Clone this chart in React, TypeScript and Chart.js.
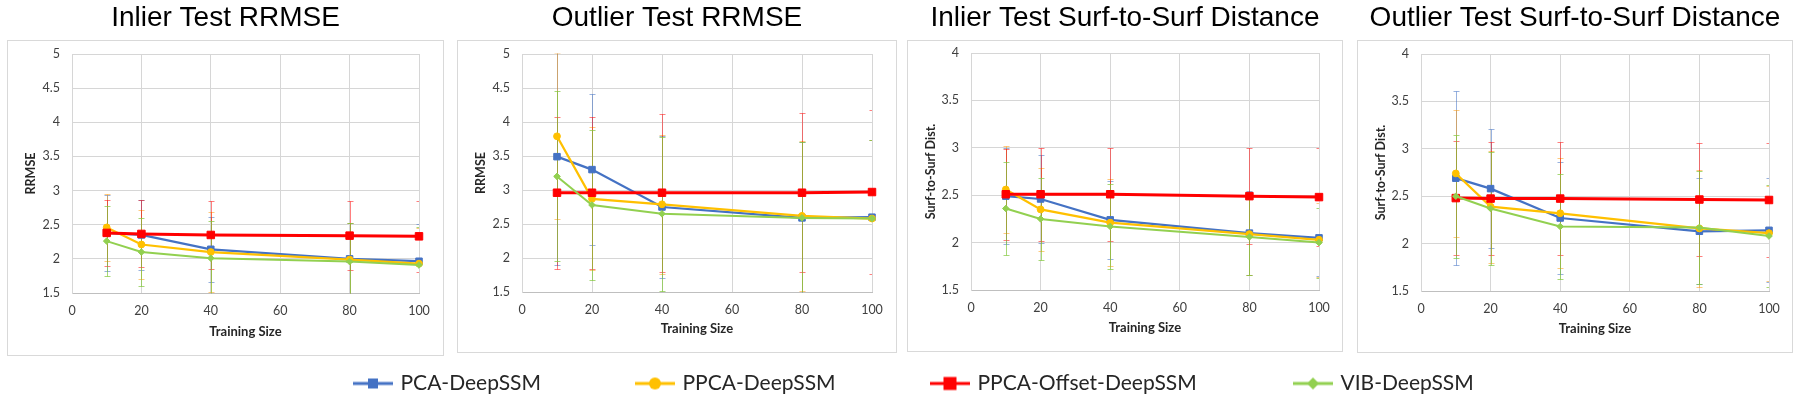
import React, { useEffect, useRef } from "react";
import { Chart, registerables } from "chart.js";

Chart.register(...registerables);

// ---------- data ----------
const trainingSizes = [10, 20, 40, 80, 100];
const seriesNames = ["PCA-DeepSSM", "PPCA-DeepSSM", "PPCA-Offset-DeepSSM", "VIB-DeepSSM"];
const panelTitles = [
  "Inlier Test RRMSE",
  "Outlier Test RRMSE",
  "Inlier Test Surf-to-Surf Distance",
  "Outlier Test Surf-to-Surf Distance",
];
const yAxisTitles = ["RRMSE", "RRMSE", "Surf-to-Surf Dist.", "Surf-to-Surf Dist."];
const xAxisTitle = "Training Size";
const xTickMin = 0;
const xTickMax = 100;
const xTickStep = 20;
const yTickMins = [1.5, 1.5, 1.5, 1.5];
const yTickMaxes = [5, 5, 4, 4];
const yTickStep = 0.5;

// Inlier Test RRMSE
const inlierRrmsePca = [2.38, 2.35, 2.14, 2.0, 1.965];
const inlierRrmsePcaErr = [0.56, 0.51, 0.48, 0.53, 0.54];
const inlierRrmsePpca = [2.46, 2.21, 2.1, 1.99, 1.93];
const inlierRrmsePpcaErr = [0.49, 0.51, 0.58, 0.53, 0.52];
const inlierRrmseOffset = [2.38, 2.365, 2.35, 2.34, 2.33];
const inlierRrmseOffsetErr = [0.48, 0.49, 0.5, 0.51, 0.52];
const inlierRrmseVib = [2.26, 2.1, 2.01, 1.96, 1.91];
const inlierRrmseVibErr = [0.51, 0.5, 0.54, 0.57, 0.55];

// Outlier Test RRMSE
const outlierRrmsePca = [3.49, 3.3, 2.75, 2.59, 2.6];
const outlierRrmsePcaErr = [1.59, 1.11, 1.04, 1.12, 1.13];
const outlierRrmsePpca = [3.79, 2.87, 2.79, 2.62, 2.58];
const outlierRrmsePpcaErr = [1.22, 1.05, 1.02, 1.1, 1.15];
const outlierRrmseOffset = [2.96, 2.96, 2.96, 2.96, 2.97];
const outlierRrmseOffsetErr = [1.12, 1.12, 1.16, 1.17, 1.2];
const outlierRrmseVib = [3.2, 2.78, 2.65, 2.59, 2.58];
const outlierRrmseVibErr = [1.25, 1.1, 1.13, 1.12, 1.15];

// Inlier Test Surf-to-Surf Distance
const inlierSurfPca = [2.49, 2.46, 2.24, 2.1, 2.05];
const inlierSurfPcaErr = [0.51, 0.46, 0.41, 0.44, 0.4];
const inlierSurfPpca = [2.56, 2.35, 2.21, 2.09, 2.03];
const inlierSurfPpcaErr = [0.46, 0.44, 0.46, 0.43, 0.39];
const inlierSurfOffset = [2.51, 2.51, 2.51, 2.49, 2.48];
const inlierSurfOffsetErr = [0.48, 0.49, 0.49, 0.51, 0.52];
const inlierSurfVib = [2.36, 2.25, 2.17, 2.06, 2.0];
const inlierSurfVibErr = [0.49, 0.43, 0.45, 0.4, 0.37];

// Outlier Test Surf-to-Surf Distance
const outlierSurfPca = [2.69, 2.58, 2.27, 2.13, 2.14];
const outlierSurfPcaErr = [0.92, 0.63, 0.59, 0.56, 0.55];
const outlierSurfPpca = [2.74, 2.39, 2.32, 2.16, 2.11];
const outlierSurfPpcaErr = [0.67, 0.59, 0.58, 0.62, 0.5];
const outlierSurfOffset = [2.48, 2.475, 2.475, 2.465, 2.46];
const outlierSurfOffsetErr = [0.6, 0.6, 0.6, 0.6, 0.6];
const outlierSurfVib = [2.5, 2.37, 2.18, 2.17, 2.08];
const outlierSurfVibErr = [0.65, 0.6, 0.55, 0.6, 0.54];

const panelValues = [
  [inlierRrmsePca, inlierRrmsePpca, inlierRrmseOffset, inlierRrmseVib],
  [outlierRrmsePca, outlierRrmsePpca, outlierRrmseOffset, outlierRrmseVib],
  [inlierSurfPca, inlierSurfPpca, inlierSurfOffset, inlierSurfVib],
  [outlierSurfPca, outlierSurfPpca, outlierSurfOffset, outlierSurfVib],
];
const panelErrors = [
  [inlierRrmsePcaErr, inlierRrmsePpcaErr, inlierRrmseOffsetErr, inlierRrmseVibErr],
  [outlierRrmsePcaErr, outlierRrmsePpcaErr, outlierRrmseOffsetErr, outlierRrmseVibErr],
  [inlierSurfPcaErr, inlierSurfPpcaErr, inlierSurfOffsetErr, inlierSurfVibErr],
  [outlierSurfPcaErr, outlierSurfPpcaErr, outlierSurfOffsetErr, outlierSurfVibErr],
];

// ---------- styles / layout ----------
const seriesStyles = [
  { color: "#4472C4", err: "rgba(68,114,196,0.55)", point: "rect", radius: 4.6, width: 2.25, order: 3 },
  { color: "#FFC000", err: "rgba(255,150,0,0.5)", point: "circle", radius: 3.4, width: 2.25, order: 2 },
  { color: "#FF0000", err: "rgba(255,0,0,0.5)", point: "rect", radius: 5.3, width: 3, order: 1 },
  { color: "#92D050", err: "rgba(130,200,60,0.7)", point: "rectRot", radius: 3.3, width: 2, order: 0 },
];

const panelLayouts = [
  { left: 7, right: 443, boxBottom: 355, chartLeft: 72, chartRight: 419, chartTop: 54, chartBottom: 293 },
  { left: 457, right: 896, boxBottom: 352, chartLeft: 522, chartRight: 872, chartTop: 54, chartBottom: 292 },
  { left: 907, right: 1342, boxBottom: 351, chartLeft: 971, chartRight: 1319, chartTop: 53, chartBottom: 290 },
  { left: 1357, right: 1792, boxBottom: 352, chartLeft: 1421, chartRight: 1769, chartTop: 54, chartBottom: 291 },
];

const legendLineStarts = [353, 635, 930, 1293];
const legendCenterY = 383;

const TICK_FONT = { family: "Lato, 'Liberation Sans', sans-serif", size: 12.5 };
const TICK_COLOR = "#404040";
const GRID_COLOR = "#d6d6d6";

const formatTick = (v: number | string) => String(Number(v));

const errorBarPlugin = {
  id: "errorBars",
  beforeDatasetsDraw(chart: any) {
    const { ctx, chartArea, scales } = chart;
    const xs = scales.x;
    const ys = scales.y;
    ctx.save();
    ctx.beginPath();
    ctx.rect(chartArea.left, chartArea.top - 0.5, chartArea.right - chartArea.left, chartArea.bottom - chartArea.top + 1);
    ctx.clip();
    chart.data.datasets.forEach((ds: any) => {
      const errs: number[] = ds.errorBars;
      if (!errs) return;
      ctx.strokeStyle = ds.errorBarColor;
      ctx.lineWidth = 1;
      ds.data.forEach((p: any, i: number) => {
        const px = Math.round(xs.getPixelForValue(p.x)) + 0.5;
        const top = Math.round(ys.getPixelForValue(p.y + errs[i])) + 0.5;
        const bot = Math.round(ys.getPixelForValue(p.y - errs[i])) + 0.5;
        ctx.beginPath();
        ctx.moveTo(px, top);
        ctx.lineTo(px, bot);
        ctx.moveTo(px - 3, top);
        ctx.lineTo(px + 3, top);
        ctx.moveTo(px - 3, bot);
        ctx.lineTo(px + 3, bot);
        ctx.stroke();
      });
    });
    ctx.restore();
  },
};

function Panel({ index }: { index: number }) {
  const ref = useRef<HTMLCanvasElement>(null);
  const L = panelLayouts[index];
  const width = L.right - L.left + 1;
  const height = L.boxBottom + 1;

  useEffect(() => {
    const datasets = seriesNames.map((name, si) => {
      const st = seriesStyles[si];
      return {
        label: name,
        data: trainingSizes.map((x, i) => ({ x, y: panelValues[index][si][i] })),
        errorBars: panelErrors[index][si],
        errorBarColor: st.err,
        borderColor: st.color,
        backgroundColor: st.color,
        borderWidth: st.width,
        pointStyle: st.point,
        pointRadius: st.radius,
        pointBorderWidth: 1,
        pointBorderColor: st.color,
        pointBackgroundColor: st.color,
        tension: 0,
        clip: false,
        order: st.order,
      };
    });
    const chart = new Chart(ref.current as HTMLCanvasElement, {
      type: "line",
      data: { datasets } as any,
      plugins: [errorBarPlugin],
      options: {
        animation: false,
        responsive: false,
        maintainAspectRatio: false,
        events: [],
        layout: { padding: { left: 0, right: 0, top: 0, bottom: 0 } },
        plugins: {
          legend: { display: false },
          tooltip: { enabled: false },
          title: {
            display: true,
            text: panelTitles[index],
            color: "#000000",
            font: { family: "'Liberation Sans', Arial, sans-serif", size: 28, weight: "normal", lineHeight: 1.2 },
            padding: { top: 1, bottom: L.chartTop - 1 - 28 * 1.2 },
          },
        },
        scales: {
          x: {
            type: "linear",
            min: xTickMin,
            max: xTickMax,
            ticks: { stepSize: xTickStep, font: TICK_FONT, color: TICK_COLOR, padding: 10, maxRotation: 0, callback: formatTick },
            grid: { color: GRID_COLOR, lineWidth: 1, drawTicks: false },
            border: { color: "#bfbfbf", width: 1 },
            title: {
              display: true,
              text: xAxisTitle,
              color: "#262626",
              font: { family: "Lato, 'Liberation Sans', sans-serif", size: 13, weight: "bold", lineHeight: 1.2 },
              padding: { top: 0, bottom: 16 },
            },
            afterFit: (s: any) => {
              s.height = height - L.chartBottom;
              s.paddingRight = width - (L.chartRight - L.left);
            },
          },
          y: {
            type: "linear",
            min: yTickMins[index],
            max: yTickMaxes[index],
            ticks: { stepSize: yTickStep, font: TICK_FONT, color: TICK_COLOR, padding: 12, callback: formatTick },
            grid: { color: GRID_COLOR, lineWidth: 1, drawTicks: false },
            border: { color: GRID_COLOR, width: 1 },
            title: {
              display: true,
              text: yAxisTitles[index],
              color: "#262626",
              font: { family: "Lato, 'Liberation Sans', sans-serif", size: 12.5, weight: "bold", lineHeight: 1.2 },
              padding: { top: 16, bottom: 0 },
            },
            afterFit: (s: any) => {
              s.width = L.chartLeft - L.left;
            },
          },
        },
      } as any,
    });
    return () => chart.destroy();
  }, [index]);

  return (
    <div style={{ position: "absolute", left: L.left, top: 0, width, height }}>
      <div
        style={{
          position: "absolute",
          left: 0,
          top: 40,
          width,
          height: L.boxBottom - 40 + 1,
          border: "1px solid #d9d9d9",
          boxSizing: "border-box",
          background: "#ffffff",
        }}
      />
      <canvas ref={ref} width={width} height={height} style={{ position: "absolute", left: 0, top: 0 }} />
    </div>
  );
}

function makeLegendIcon(si: number) {
  const st = seriesStyles[si];
  const c = document.createElement("canvas");
  c.width = 40;
  c.height = 18;
  const g = c.getContext("2d") as CanvasRenderingContext2D;
  g.strokeStyle = st.color;
  g.fillStyle = st.color;
  g.lineWidth = 3;
  g.beginPath();
  g.moveTo(0, 9);
  g.lineTo(40, 9);
  g.stroke();
  if (st.point === "rect") {
    const s = si === 2 ? 13 : 10;
    g.fillRect(20 - s / 2, 9 - s / 2, s, s);
  } else if (st.point === "circle") {
    g.beginPath();
    g.arc(20, 9, 6, 0, Math.PI * 2);
    g.fill();
  } else {
    g.beginPath();
    g.moveTo(20 - 6, 9);
    g.lineTo(20, 3);
    g.lineTo(20 + 6, 9);
    g.lineTo(20, 15);
    g.closePath();
    g.fill();
  }
  return c;
}

function LegendItem({ index }: { index: number }) {
  const ref = useRef<HTMLCanvasElement>(null);
  const w = index === 2 ? 300 : 260;
  const h = 40;
  useEffect(() => {
    const icon = makeLegendIcon(index);
    const st = seriesStyles[index];
    const chart = new Chart(ref.current as HTMLCanvasElement, {
      type: "line",
      data: { datasets: [{ label: seriesNames[index], data: [], borderColor: st.color, backgroundColor: st.color }] },
      options: {
        animation: false,
        responsive: false,
        events: [],
        layout: { padding: 0 },
        scales: { x: { display: false }, y: { display: false } },
        plugins: {
          tooltip: { enabled: false },
          legend: {
            display: true,
            position: "top",
            align: "start",
            maxHeight: 40,
            labels: {
              usePointStyle: true,
              pointStyleWidth: 34,
              padding: 8,
              color: "#262626",
              font: { family: "Lato, 'Liberation Sans', sans-serif", size: 21 },
              generateLabels: () => [
                {
                  text: seriesNames[index],
                  pointStyle: icon,
                  fillStyle: st.color,
                  strokeStyle: st.color,
                  lineWidth: 1,
                  hidden: false,
                  datasetIndex: 0,
                  fontColor: "#262626",
                },
              ],
            },
          },
        },
      } as any,
    });
    return () => chart.destroy();
  }, [index]);
  return (
    <canvas
      ref={ref}
      width={w}
      height={h}
      style={{ position: "absolute", left: legendLineStarts[index] - 5, top: legendCenterY - 18.5, width: w, height: h }}
    />
  );
}

export default function App() {
  return (
    <div
      style={{
        position: "fixed",
        left: 0,
        top: 0,
        width: 1800,
        height: 403,
        background: "#ffffff",
        overflow: "hidden",
      }}
    >
      {panelLayouts.map((_, i) => (
        <Panel key={i} index={i} />
      ))}
      {seriesNames.map((_, i) => (
        <LegendItem key={i} index={i} />
      ))}
    </div>
  );
}
